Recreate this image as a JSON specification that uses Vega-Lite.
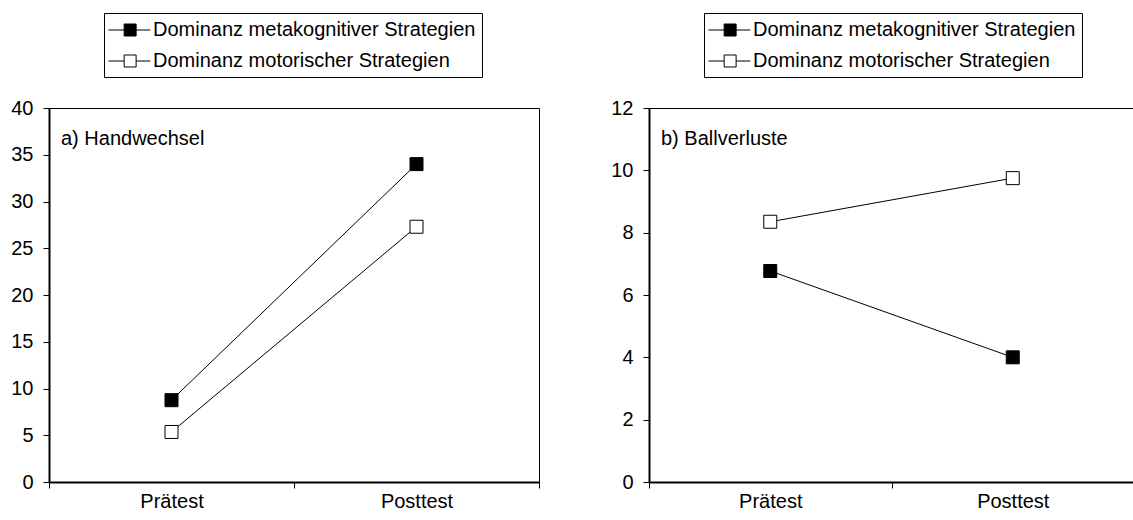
{
  "$schema": "https://vega.github.io/schema/vega-lite/v6.json",
  "padding": {"left": 10, "top": 12, "right": 0, "bottom": 0},
  "spacing": 70,
  "config": {
    "font": "Liberation Sans",
    "view": {"stroke": "#000", "strokeWidth": 1},
    "axis": {"domainColor": "#000", "domainWidth": 2, "tickColor": "#000", "tickWidth": 1, "tickSize": 6, "labelColor": "#000", "labelFontSize": 20, "labelFont": "Liberation Sans", "grid": false, "title": null},
    "legend": {
      "title": null, "orient": "none", "legendX": 55, "legendY": -95, "direction": "vertical",
      "symbolType": "M-1.2,0L0.3,0M1.44,0L2.8,0M0.3,-0.571L1.44,-0.571L1.44,0.571L0.3,0.571Z",
      "symbolSize": 441, "symbolStrokeColor": "#000", "symbolStrokeWidth": 1, "symbolOpacity": 1,
      "labelFontSize": 20, "labelFont": "Liberation Sans", "labelColor": "#000", "labelOffset": 21, "labelLimit": 0,
      "strokeColor": "#000", "fillColor": "#fff", "padding": 6, "rowPadding": 10
    },
    "title": {"anchor": "start", "frame": "group", "fontSize": 20, "fontWeight": "normal", "color": "#000", "font": "Liberation Sans"}
  },
  "hconcat": [
    {
      "width": 490, "height": 374,
      "title": {"text": "a) Handwechsel", "dx": 12, "dy": 140},
      "data": {"values": [
        {"Gruppe": "Dominanz metakognitiver Strategien", "Zeitpunkt": "Prätest", "Wert": 8.75},
        {"Gruppe": "Dominanz metakognitiver Strategien", "Zeitpunkt": "Posttest", "Wert": 34.0},
        {"Gruppe": "Dominanz motorischer Strategien", "Zeitpunkt": "Prätest", "Wert": 5.35},
        {"Gruppe": "Dominanz motorischer Strategien", "Zeitpunkt": "Posttest", "Wert": 27.3}
      ]},
      "encoding": {
        "x": {"field": "Zeitpunkt", "type": "nominal", "sort": ["Prätest", "Posttest"], "scale": {"paddingInner": 0, "paddingOuter": 0}, "axis": {"labelAngle": 0, "tickBand": "extent", "labelPadding": 3}},
        "y": {"field": "Wert", "type": "quantitative", "scale": {"domain": [0, 40], "nice": false, "zero": true}, "axis": {"values": [0, 5, 10, 15, 20, 25, 30, 35, 40], "labelPadding": 10}}
      },
      "layer": [
        {"mark": {"type": "line", "color": "#000", "strokeWidth": 1}, "encoding": {"detail": {"field": "Gruppe"}}},
        {"mark": {"type": "point", "shape": "square", "filled": true, "stroke": "#000", "strokeWidth": 1, "size": 169, "opacity": 1},
         "encoding": {"fill": {"field": "Gruppe", "type": "nominal", "scale": {"domain": ["Dominanz metakognitiver Strategien", "Dominanz motorischer Strategien"], "range": ["#000", "#fff"]}}}}
      ]
    },
    {
      "width": 485, "height": 374,
      "title": {"text": "b) Ballverluste", "dx": 12, "dy": 140},
      "data": {"values": [
        {"Gruppe": "Dominanz metakognitiver Strategien", "Zeitpunkt": "Prätest", "Wert": 6.77},
        {"Gruppe": "Dominanz metakognitiver Strategien", "Zeitpunkt": "Posttest", "Wert": 4.0},
        {"Gruppe": "Dominanz motorischer Strategien", "Zeitpunkt": "Prätest", "Wert": 8.35},
        {"Gruppe": "Dominanz motorischer Strategien", "Zeitpunkt": "Posttest", "Wert": 9.75}
      ]},
      "encoding": {
        "x": {"field": "Zeitpunkt", "type": "nominal", "sort": ["Prätest", "Posttest"], "scale": {"paddingInner": 0, "paddingOuter": 0}, "axis": {"labelAngle": 0, "tickBand": "extent", "labelPadding": 3}},
        "y": {"field": "Wert", "type": "quantitative", "scale": {"domain": [0, 12], "nice": false, "zero": true}, "axis": {"values": [0, 2, 4, 6, 8, 10, 12], "labelPadding": 10}}
      },
      "layer": [
        {"mark": {"type": "line", "color": "#000", "strokeWidth": 1}, "encoding": {"detail": {"field": "Gruppe"}}},
        {"mark": {"type": "point", "shape": "square", "filled": true, "stroke": "#000", "strokeWidth": 1, "size": 169, "opacity": 1},
         "encoding": {"fill": {"field": "Gruppe", "type": "nominal", "scale": {"domain": ["Dominanz metakognitiver Strategien", "Dominanz motorischer Strategien"], "range": ["#000", "#fff"]}}}}
      ]
    }
  ],
  "resolve": {"scale": {"x": "independent", "y": "independent", "fill": "independent"}, "legend": {"fill": "independent"}, "axis": {"y": "independent"}}
}
